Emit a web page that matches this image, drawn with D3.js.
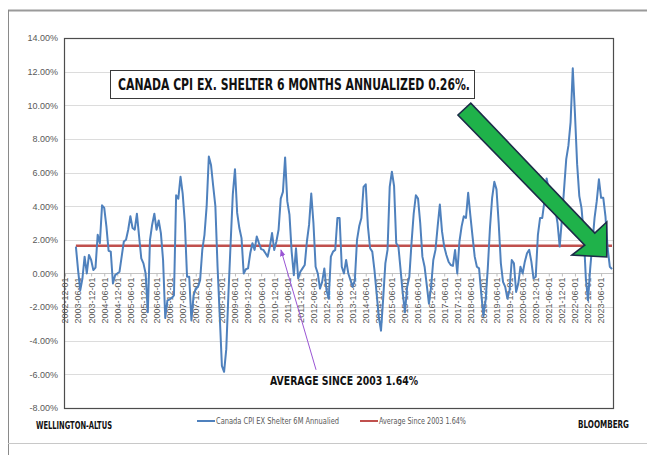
<!DOCTYPE html>
<html>
<head>
<meta charset="utf-8">
<script src="https://cdn.jsdelivr.net/npm/d3@7"></script>
<style>
  body { margin: 0; background: #fff; }
  svg { display: block; font-family: "Liberation Sans Narrow", "DejaVu Sans Condensed", "Open Sans", sans-serif; }
</style>
</head>
<body>
<div id="chart"></div>
<script>
const W = 647, H = 455;

// month index 0 = 2002-12; the series starts at 2003-05
const START_INDEX = 5;
const LAST_INDEX = 251;
const cpiExShelter = [
  1.6, 0.2, -1.0, -0.3, 1.0, 0.0, 1.1, 0.8, 0.2, 0.35,
  2.3, 1.8, 4.05, 3.9, 2.8, 1.35, 1.3, -0.6, -0.1, 0.0,
  0.1, 1.0, 1.9, 2.0, 2.6, 3.4, 2.7, 2.6, 3.55, 2.2,
  0.9, 0.6, 0.0, -2.3, 2.0, 2.9, 3.55, 2.6, 3.15, 2.4,
  0.8, -2.65, -1.6, -1.55, -1.45, -1.3, 4.65, 4.45, 5.75, 4.75,
  3.0, -0.2, -0.2, -2.8, -1.3, -0.9, -0.8, -0.4, 1.4, 2.3,
  4.0, 6.95, 6.45, 5.2, 4.0, 0.4, -2.5, -5.5, -5.85, -4.5,
  -1.2, 1.8, 4.7, 6.2, 3.6, 2.7, 2.1, 0.0, 0.25, 0.3,
  1.2, 1.8, 1.4, 2.2, 1.8, 1.45, 1.4, 1.2, 1.0, 1.6,
  2.4, 1.4, 1.9, 2.6, 4.45, 4.85, 6.9, 4.3, 3.5, 1.3,
  -0.1, 1.5, -0.3, 0.1, 0.3, 0.5, 1.9, 2.9, 4.75, 3.0,
  0.4, 0.0, -0.9, -0.5, 0.3, -1.0, -1.5, 1.0, 1.3, 1.4,
  3.3, 3.3, 0.4, 0.0, 0.8, 0.0, -0.4, -0.8, -0.4, 2.0,
  2.8, 3.3, 5.15, 5.3, 2.8, 1.5, 1.3, 0.2, -1.2, -2.6,
  -3.4, -1.5, 0.6, 1.4, 5.15, 6.05, 5.2, 1.8, 1.6, 0.2,
  -1.2, -2.3, -0.8, -0.2, 1.8, 3.55, 4.65, 4.45, 3.0, 1.0,
  0.4, -0.7, -1.8, -0.8, 0.8, 1.4, 2.8, 4.1, 2.5, 1.6,
  1.1, 0.7, 0.5, 0.45, 1.4, 0.0, 1.9, 2.8, 3.4, 3.3,
  4.8, 3.45, 2.2, 1.0, 0.4, 0.3, -1.2, -2.55, -1.6, 0.3,
  2.7, 4.5, 5.45, 5.0, 3.0, 0.6, -0.5, -0.8, -1.5, -1.0,
  0.8, 0.6, -1.1, -0.6, 0.4, 0.0, 0.7, 1.2, 1.4, 0.7,
  -0.3, -0.2, 2.3, 3.3, 3.3, 4.3, 5.65, 5.0, 4.5, 4.0,
  3.8, 3.0, 1.6, 3.2, 5.0, 6.8, 7.6, 9.0, 12.2, 9.5,
  6.5, 4.6, 3.9, 2.4, -0.3, -1.6, 0.3, 1.8, 3.3, 4.3,
  5.6, 4.5, 4.5, 3.4, 1.5, 0.4, 0.26
];
const AVERAGE = 1.64;

const yTicks = [-8, -6, -4, -2, 0, 2, 4, 6, 8, 10, 12, 14];
const xTickLabels = [
  "2002-12-01", "2003-06-01", "2003-12-01", "2004-06-01", "2004-12-01", "2005-06-01",
  "2005-12-01", "2006-06-01", "2006-12-01", "2007-06-01", "2007-12-01", "2008-06-01",
  "2008-12-01", "2009-06-01", "2009-12-01", "2010-06-01", "2010-12-01", "2011-06-01",
  "2011-12-01", "2012-06-01", "2012-12-01", "2013-06-01", "2013-12-01", "2014-06-01",
  "2014-12-01", "2015-06-01", "2015-12-01", "2016-06-01", "2016-12-01", "2017-06-01",
  "2017-12-01", "2018-06-01", "2018-12-01", "2019-06-01", "2019-12-01", "2020-06-01",
  "2020-12-01", "2021-06-01", "2021-12-01", "2022-06-01", "2022-12-01", "2023-06-01"
];

const titleText = "CANADA CPI EX. SHELTER 6 MONTHS ANNUALIZED 0.26%.";
const avgNote = "AVERAGE SINCE 2003 1.64%";
const legendLabels = ["Canada CPI EX Shelter 6M Annualied", "Average Since 2003 1.64%"];
const colors = { cpi: "#4f81bd", avg: "#c0504d" };

const plot = { left: 64, right: 613, top: 38, bottom: 408 };

const svg = d3.select("#chart").append("svg")
  .attr("width", W).attr("height", H);

svg.append("rect").attr("width", W).attr("height", H).attr("fill", "#fff");

// page frame
svg.append("line").attr("x1", 8).attr("x2", W).attr("y1", 10.5).attr("y2", 10.5)
  .attr("stroke", "#9a9a9a").attr("stroke-width", 2);
svg.append("line").attr("x1", 8.5).attr("x2", 8.5).attr("y1", 10).attr("y2", H)
  .attr("stroke", "#8a8a8a").attr("stroke-width", 1);
svg.append("line").attr("x1", 8).attr("x2", W).attr("y1", 443.5).attr("y2", 443.5)
  .attr("stroke", "#c8c8c8").attr("stroke-width", 1);

const x = d3.scaleLinear().domain([0, LAST_INDEX]).range([65, 612]);
const y = d3.scaleLinear().domain([-8, 14]).range([plot.bottom, plot.top]);

// gridlines
svg.append("g").selectAll("line").data(yTicks).join("line")
  .attr("x1", plot.left).attr("x2", plot.right)
  .attr("y1", d => Math.round(y(d)) + 0.5).attr("y2", d => Math.round(y(d)) + 0.5)
  .attr("stroke", d => d === 0 ? "#c4c4c4" : "#dcdcdc").attr("stroke-width", 1);

// y axis labels
const yAxis = svg.append("g").attr("transform", `translate(${plot.left},0)`)
  .call(d3.axisLeft(y).tickValues(yTicks).tickSize(0).tickPadding(6)
    .tickFormat(d => d.toFixed(2) + "%"));
yAxis.select(".domain").remove();
yAxis.selectAll("text").attr("fill", "#595959").style("font-size", "9px")
  .style("font-family", "inherit");

// category axis at 0%
const xAxis = svg.append("g").attr("transform", `translate(0,${Math.round(y(0)) + 0.5})`)
  .call(d3.axisBottom(x).tickValues(xTickLabels.map((d, i) => i * 6))
    .tickSize(3).tickPadding(3).tickFormat((d, i) => xTickLabels[i]));
xAxis.select(".domain").remove();
xAxis.selectAll(".tick line").attr("stroke", "#bdbdbd");
xAxis.selectAll("text")
  .attr("fill", "#595959").style("font-size", "9px").style("font-family", "inherit")
  .attr("text-anchor", "end")
  .attr("transform", "rotate(-90)")
  .attr("x", -4).attr("y", 0).attr("dy", "0.32em");

// plot border
svg.append("rect")
  .attr("x", plot.left + 0.5).attr("y", plot.top + 0.5)
  .attr("width", plot.right - plot.left).attr("height", plot.bottom - plot.top)
  .attr("fill", "none").attr("stroke", "#4d4d4d").attr("stroke-width", 1.2);

// average line
svg.append("line")
  .attr("x1", x(START_INDEX)).attr("x2", x(LAST_INDEX))
  .attr("y1", y(AVERAGE)).attr("y2", y(AVERAGE))
  .attr("stroke", colors.avg).attr("stroke-width", 2.5);

// cpi series
const line = d3.line()
  .x((d, i) => x(START_INDEX + i))
  .y(d => y(d));
svg.append("path").datum(cpiExShelter)
  .attr("fill", "none").attr("stroke", colors.cpi).attr("stroke-width", 2)
  .attr("stroke-linejoin", "round")
  .attr("d", line);

// title box
svg.append("rect").attr("x", 110.5).attr("y", 70.5).attr("width", 364).attr("height", 28)
  .attr("fill", "#fff").attr("stroke", "#3a3a3a").attr("stroke-width", 1);
svg.append("text").attr("x", 118).attr("y", 90)
  .attr("font-weight", "bold").attr("font-size", 15).attr("fill", "#111")
  .attr("textLength", 352).attr("lengthAdjust", "spacingAndGlyphs")
  .text(titleText);

// green arrow (points in month index / value space)
const arrowPts = [
  [180.3, 9.42], [186.2, 10.13], [243.1, 2.40], [248.6, 3.06],
  [248.6, 0.98], [232.6, 1.09], [238.5, 1.68]
];
svg.append("polygon")
  .attr("points", arrowPts.map(p => [x(p[0]), y(p[1])].join(",")).join(" "))
  .attr("fill", "#1fb24a").attr("stroke", "#1c2c48").attr("stroke-width", 1.6)
  .attr("stroke-linejoin", "miter");

// average annotation
svg.append("defs").append("marker")
  .attr("id", "ah").attr("viewBox", "0 0 10 10").attr("refX", 9).attr("refY", 5)
  .attr("markerWidth", 7).attr("markerHeight", 7).attr("orient", "auto")
  .append("path").attr("d", "M0,1 L10,5 L0,9 Z").attr("fill", "#9a55d4");
svg.append("line")
  .attr("x1", x(115.2)).attr("y1", y(-5.73))
  .attr("x2", x(99.1)).attr("y2", y(1.4))
  .attr("stroke", "#9a55d4").attr("stroke-width", 1)
  .attr("marker-end", "url(#ah)");
svg.append("text").attr("x", 270).attr("y", 385)
  .attr("font-weight", "bold").attr("font-size", 12.5).attr("fill", "#111")
  .attr("textLength", 148).attr("lengthAdjust", "spacingAndGlyphs")
  .text(avgNote);

// footer
svg.append("text").attr("x", 36).attr("y", 429)
  .attr("font-weight", "bold").attr("font-size", 10).attr("fill", "#111")
  .attr("textLength", 76).attr("lengthAdjust", "spacingAndGlyphs")
  .text("WELLINGTON-ALTUS");
svg.append("text").attr("x", 578).attr("y", 428)
  .attr("font-weight", "bold").attr("font-size", 10).attr("fill", "#111")
  .attr("textLength", 51).attr("lengthAdjust", "spacingAndGlyphs")
  .text("BLOOMBERG");

const legendItems = [
  { label: legendLabels[0], color: colors.cpi, x: 197, w: 123 },
  { label: legendLabels[1], color: colors.avg, x: 360, w: 87 }
];
const lg = svg.append("g").selectAll("g").data(legendItems).join("g")
  .attr("transform", d => `translate(${d.x},421)`);
lg.append("line").attr("x1", 0).attr("x2", 18).attr("y1", 0).attr("y2", 0)
  .attr("stroke", d => d.color).attr("stroke-width", 2);
lg.append("text").attr("x", 19).attr("y", 3)
  .attr("font-size", 8.5).attr("fill", "#595959")
  .attr("textLength", d => d.w).attr("lengthAdjust", "spacingAndGlyphs")
  .text(d => d.label);
</script>
</body>
</html>
